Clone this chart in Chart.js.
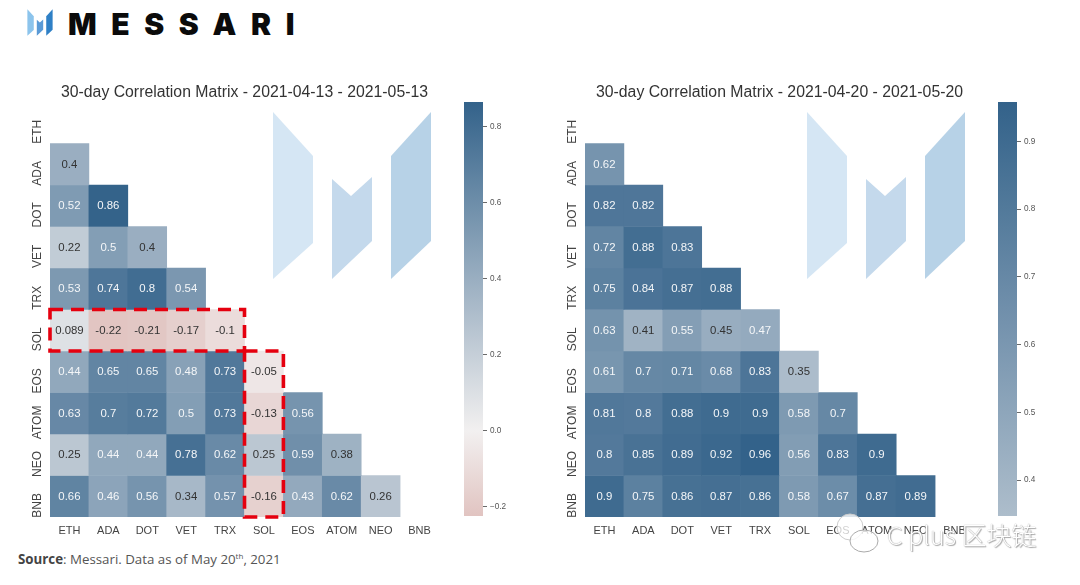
<!DOCTYPE html>
<html lang="en">
<head>
    <meta charset="utf-8"/>
    <title>30-day Correlation Matrix</title>
    <script src="https://cdn.jsdelivr.net/npm/chart.js"></script>
    <style>
        html, body { margin: 0; padding: 0; background: #fff; }
        #page { position: relative; width: 1080px; height: 585px; overflow: hidden; }
        #page > * { position: absolute; }
        canvas { display: block; }
        .brand { left: 68px; top: 4px; font: 900 30px/40px Inter, sans-serif; letter-spacing: 14.6px; color: #0b0b0b; }
        .source { left: 18px; top: 550px; font: 13.3px/18px "Open Sans", sans-serif; color: #555; }
        .source b { color: #444; }
        .source sup { font-size: 8px; line-height: 0; }
        .stamp { left: 887px; top: 517px; font: 300 25px/34px "Noto Sans CJK SC", sans-serif; color: #fff;
                 text-shadow: 0 0 1px #888, 1px 1px 1px #aaa; white-space: nowrap; }
    </style>
</head>
<body>
<div id="page">
    <!-- Logo -->
    <svg style="left:25px;top:9px" width="30" height="27" viewBox="273 111 158 169">
        <polygon fill="#8cc4ec" points="273,112 313,156 313,243 273,279"/>
        <polygon fill="#5a9ad6" points="332,179 351,196 372,177 372,241 332,279"/>
        <polygon fill="#2f80c6" points="391,156 431,112 431,241 391,279"/>
    </svg>
    <div class="brand">MESSARI</div>

    <!-- Watermarks behind the heatmaps -->
    <svg style="left:0;top:0" width="1080" height="300">
        <g id="markLeft">
            <polygon fill="#d5e6f4" points="273,112 313,156 313,243 273,279"/>
            <polygon fill="#c4d9ec" points="332,179 351,196 372,177 372,241 332,279"/>
            <polygon fill="#b7d2e7" points="391,156 431,112 431,241 391,279"/>
        </g>
        <use href="#markLeft" x="534"/>
    </svg>

    <canvas id="heatLeft" style="left:0;top:70px" width="439" height="471"></canvas>
    <canvas id="barLeft" style="left:464px;top:92px" width="50" height="434"></canvas>
    <canvas id="heatRight" style="left:535px;top:70px" width="439" height="471"></canvas>
    <canvas id="barRight" style="left:998px;top:92px" width="50" height="434"></canvas>

    <div class="source"><b>Source</b>: Messari. Data as of May 20<sup>th</sup>, 2021</div>

    <!-- Stamp over the bottom right corner -->
    <svg style="left:832px;top:510px" width="50" height="50">
        <ellipse cx="18" cy="17" rx="13" ry="13" fill="#fff" fill-opacity="0.75" stroke="#ccc"/>
        <ellipse cx="32" cy="31" rx="14" ry="11" fill="#fff" fill-opacity="0.8" stroke="#aaa"/>
    </svg>
    <div class="stamp">C plus 区块链</div>
</div>

<script>
    const coins = ['ETH', 'ADA', 'DOT', 'VET', 'TRX', 'SOL', 'EOS', 'ATOM', 'NEO', 'BNB'];

    // Lower triangles, one list per row starting at ADA
    const corrApr13 = [
        [0.4],
        [0.52, 0.86],
        [0.22, 0.5, 0.4],
        [0.53, 0.74, 0.8, 0.54],
        [0.089, -0.22, -0.21, -0.17, -0.1],
        [0.44, 0.65, 0.65, 0.48, 0.73, -0.05],
        [0.63, 0.7, 0.72, 0.5, 0.73, -0.13, 0.56],
        [0.25, 0.44, 0.44, 0.78, 0.62, 0.25, 0.59, 0.38],
        [0.66, 0.46, 0.56, 0.34, 0.57, -0.16, 0.43, 0.62, 0.26]
    ];
    const corrApr20 = [
        [0.62],
        [0.82, 0.82],
        [0.72, 0.88, 0.83],
        [0.75, 0.84, 0.87, 0.88],
        [0.63, 0.41, 0.55, 0.45, 0.47],
        [0.61, 0.7, 0.71, 0.68, 0.83, 0.35],
        [0.81, 0.8, 0.88, 0.9, 0.9, 0.58, 0.7],
        [0.8, 0.85, 0.89, 0.92, 0.96, 0.56, 0.83, 0.9],
        [0.9, 0.75, 0.86, 0.87, 0.86, 0.58, 0.67, 0.87, 0.89]
    ];

    const titleApr13 = '30-day Correlation Matrix - 2021-04-13 - 2021-05-13';
    const titleApr20 = '30-day Correlation Matrix - 2021-04-20 - 2021-05-20';

    const rangeApr13 = [-0.224, 0.864];
    const rangeApr20 = [0.347, 0.958];
    const ticksApr13 = [-0.2, 0, 0.2, 0.4, 0.6, 0.8];
    const ticksApr20 = [0.4, 0.5, 0.6, 0.7, 0.8, 0.9];

    // The dashed boxes on the first matrix
    const boxedRow = 'SOL';
    const boxedCol = 'SOL';

    const FONT = '"Liberation Sans", Arial, sans-serif';
    const TEXT = '#444';

    const mix = (a, b, t) => a.map((c, i) => Math.round(c + (b[i] - c) * t));

    // Same map as the colour bars: neutral at zero, ends at +/- the top of the range
    function colorFor(value, top) {
        const t = value / top;
        const rgb = t >= 0 ? mix([242, 240, 240], [51, 98, 138], t)
                           : mix([242, 240, 240], [178, 70, 60], -t);
        return `rgb(${rgb.join(',')})`;
    }

    const cellLabels = {
        id: 'cellLabels',
        afterDatasetsDraw(chart, args, opts) {
            const {ctx, scales: {x, y}} = chart;
            ctx.save();
            ctx.font = `11.4px ${FONT}`;
            ctx.textAlign = 'center';
            ctx.textBaseline = 'middle';
            opts.rows.forEach((row, r) => row.forEach((value, c) => {
                ctx.fillStyle = value / opts.top >= 0.48 ? '#f4f6f8' : '#333';
                ctx.fillText(String(value), x.getPixelForValue(c), y.getPixelForValue(r + 1.5) + 0.5);
            }));
            ctx.restore();
        }
    };

    const dashedBoxes = {
        id: 'dashedBoxes',
        afterDraw(chart, args, opts) {
            if (!opts.boxes) return;
            const {ctx, scales: {x, y}} = chart;
            const step = x.width / coins.length;
            ctx.save();
            ctx.strokeStyle = '#e5000f';
            ctx.lineWidth = 3.6;
            ctx.setLineDash([13, 8]);
            opts.boxes.forEach(b => {
                const left = x.getPixelForValue(b.cols[0]) - step / 2;
                const right = x.getPixelForValue(b.cols[1]) + step / 2;
                const top = y.getPixelForValue(b.rows[0]);
                const bottom = y.getPixelForValue(b.rows[1] + 1);
                ctx.strokeRect(left, top, right - left, bottom - top);
            });
            ctx.restore();
        }
    };

    function drawHeatmap(id, title, rows, range, boxes) {
        const top = range[1];
        const datasets = rows.map((row, r) => ({
            grouped: false,
            barPercentage: 1,
            categoryPercentage: 1,
            data: row.map(() => [r + 1, r + 2]),
            backgroundColor: row.map(v => colorFor(v, top))
        }));
        new Chart(document.getElementById(id), {
            type: 'bar',
            data: {labels: coins, datasets},
            plugins: [cellLabels, dashedBoxes],
            options: {
                responsive: false,
                animation: false,
                devicePixelRatio: 1,
                layout: {padding: 0},
                plugins: {
                    legend: {display: false},
                    tooltip: {enabled: false},
                    title: {
                        display: true,
                        fullSize: false,
                        text: title,
                        color: '#333',
                        font: {family: FONT, size: 15.8, weight: 'normal'},
                        padding: {top: 13.5, bottom: -0.5}
                    },
                    cellLabels: {rows, top},
                    dashedBoxes: {boxes}
                },
                scales: {
                    x: {
                        grid: {display: false, drawTicks: false},
                        border: {display: false},
                        ticks: {color: TEXT, font: {family: FONT, size: 11}, maxRotation: 0, padding: 7},
                        afterFit: s => { s.height = 24; }
                    },
                    y: {
                        type: 'linear',
                        min: 0,
                        max: coins.length,
                        reverse: true,
                        grid: {display: false, drawTicks: false},
                        border: {display: false},
                        // rotated labels sit a little below the middle of their row
                        afterBuildTicks: s => { s.ticks = coins.map((c, i) => ({value: i + 0.72})); },
                        afterFit: s => { s.width = 50; },
                        ticks: {
                            color: TEXT,
                            font: {family: FONT, size: 12},
                            minRotation: 90,
                            maxRotation: 90,
                            crossAlign: 'center',
                            padding: -4,
                            callback: v => coins[Math.floor(v)]
                        }
                    }
                }
            }
        });
    }

    function drawColorBar(id, range, tickValues) {
        const top = range[1];
        new Chart(document.getElementById(id), {
            type: 'bar',
            data: {
                labels: [''],
                datasets: [{
                    barPercentage: 1,
                    categoryPercentage: 1,
                    data: [range],
                    backgroundColor(ctx) {
                        const {chart} = ctx;
                        if (!chart.chartArea) return '#fff';
                        const y = chart.scales.y;
                        const grad = chart.ctx.createLinearGradient(0, y.getPixelForValue(range[0]), 0, y.getPixelForValue(range[1]));
                        [0, 0.25, 0.5, 0.75, 1].forEach(t => {
                            grad.addColorStop(t, colorFor(range[0] + (range[1] - range[0]) * t, top));
                        });
                        // the zero crossing has to land on the neutral colour
                        if (range[0] < 0) grad.addColorStop(-range[0] / (range[1] - range[0]), colorFor(0, top));
                        return grad;
                    }
                }]
            },
            options: {
                responsive: false,
                animation: false,
                devicePixelRatio: 1,
                layout: {padding: {top: 10, bottom: 10}},
                plugins: {legend: {display: false}, tooltip: {enabled: false}},
                scales: {
                    x: {display: false},
                    y: {
                        position: 'right',
                        min: range[0],
                        max: range[1],
                        grid: {drawOnChartArea: false, drawTicks: true, tickLength: 4, color: '#444', tickWidth: 0.8},
                        border: {display: false},
                        afterBuildTicks: s => { s.ticks = tickValues.map(value => ({value})); },
                        afterFit: s => { s.width = 31; },
                        ticks: {
                            color: '#555',
                            padding: 3,
                            font: {family: FONT, size: 8.2},
                            callback: v => (v < 0 ? '\u2212' : '') + Math.abs(v).toFixed(1)
                        }
                    }
                }
            }
        });
    }

    const rowAt = coins.indexOf(boxedRow);
    const colAt = coins.indexOf(boxedCol);

    drawHeatmap('heatLeft', titleApr13, corrApr13, rangeApr13, [
        {rows: [rowAt, rowAt], cols: [0, rowAt - 1]},
        {rows: [rowAt + 1, coins.length - 1], cols: [colAt, colAt]}
    ]);
    drawHeatmap('heatRight', titleApr20, corrApr20, rangeApr20, null);
    drawColorBar('barLeft', rangeApr13, ticksApr13);
    drawColorBar('barRight', rangeApr20, ticksApr20);
</script>
</body>
</html>
